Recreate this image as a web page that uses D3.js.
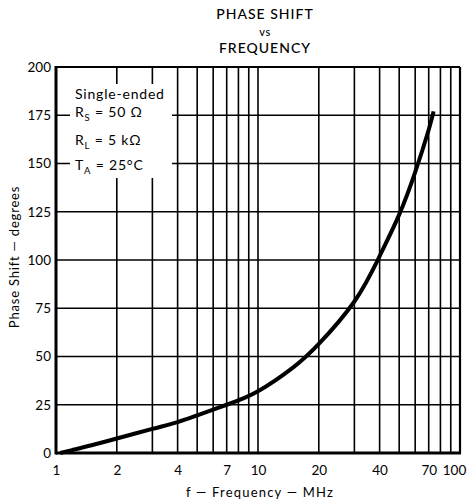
<!DOCTYPE html>
<html>
<head>
<meta charset="utf-8">
<script src="https://cdn.jsdelivr.net/npm/d3@7"></script>
<style>
  html, body { margin: 0; padding: 0; background: #fff; }
  svg { display: block; font-family: "Lato", "DejaVu Sans", sans-serif; }
</style>
</head>
<body>
<svg id="chart" width="467" height="503"></svg>
<script>
// ---- data ----
const titleLines = ["PHASE SHIFT", "vs", "FREQUENCY"];
const frequency = [1.05, 1.2, 1.5, 2, 3, 4, 5, 7, 10, 15, 20, 30, 40, 50, 60, 70, 74];
const phaseShift = [0, 1.5, 4, 7.5, 12.5, 16, 19.5, 25, 32, 44.5, 56.5, 78.5, 102, 123.5, 145.5, 167.5, 177];
const xTickLabels = [1, 2, 4, 7, 10, 20, 40, 70, 100];
const xGridValues = [2, 3, 4, 5, 6, 7, 8, 9, 10, 20, 30, 40, 50, 60, 70, 80, 90];
const yTickLabels = [0, 25, 50, 75, 100, 125, 150, 175, 200];

// ---- layout ----
const svg = d3.select("#chart");
const m = { left: 56, right: 460, top: 67, bottom: 453 };
const FONT = "Lato, DejaVu Sans, sans-serif";

const x = d3.scaleLog().domain([1, 100]).range([m.left, m.right]);
const y = d3.scaleLinear().domain([0, 200]).range([m.bottom, m.top]);

// title
svg.append("g").selectAll("text").data(titleLines).join("text")
  .attr("x", 265)
  .attr("y", (d, i) => 19 + i * 17)
  .attr("text-anchor", "middle")
  .attr("font-size", (d, i) => i === 1 ? 11 : 14)
  .attr("letter-spacing", (d, i) => i === 1 ? 0.5 : 1)
  .attr("font-weight", 500)
  .attr("fill", "#000")
  .text(d => d);

// grid
const grid = svg.append("g").attr("stroke", "#000").attr("stroke-width", 1.6);
grid.selectAll("line.v").data(xGridValues).join("line")
  .attr("class", "v")
  .attr("x1", d => x(d)).attr("x2", d => x(d))
  .attr("y1", m.top).attr("y2", m.bottom);
grid.selectAll("line.h").data(yTickLabels.filter(d => d > 0 && d < 200)).join("line")
  .attr("class", "h")
  .attr("x1", m.left).attr("x2", m.right)
  .attr("y1", d => y(d)).attr("y2", d => y(d));

// white box behind the conditions text
svg.append("rect")
  .attr("x", 70).attr("y", 84).attr("width", 102).attr("height", 94)
  .attr("fill", "#fff");

// frame
svg.append("line").attr("x1", m.left).attr("x2", m.right).attr("y1", m.top).attr("y2", m.top)
  .attr("stroke", "#000").attr("stroke-width", 2);
svg.append("line").attr("x1", m.right).attr("x2", m.right).attr("y1", m.top).attr("y2", m.bottom)
  .attr("stroke", "#000").attr("stroke-width", 2.2);
svg.append("line").attr("x1", m.left).attr("x2", m.left).attr("y1", m.top - 1).attr("y2", m.bottom + 1.5)
  .attr("stroke", "#000").attr("stroke-width", 3);
svg.append("line").attr("x1", m.left).attr("x2", m.right + 1).attr("y1", m.bottom).attr("y2", m.bottom)
  .attr("stroke", "#000").attr("stroke-width", 3);

// axes (labels only)
const xAxis = d3.axisBottom(x).tickValues(xTickLabels).tickSize(0).tickPadding(12)
  .tickFormat(d3.format("d"));
const gx = svg.append("g").attr("transform", `translate(0,${m.bottom})`).call(xAxis);
gx.select(".domain").remove();
gx.selectAll("text").attr("font-size", 13.5).attr("font-family", FONT).attr("fill", "#000")
  .attr("dx", d => d === 100 ? -6 : 0);

const yAxis = d3.axisLeft(y).tickValues(yTickLabels).tickSize(0).tickPadding(5)
  .tickFormat(d3.format("d"));
const gy = svg.append("g").attr("transform", `translate(${m.left},0)`).call(yAxis);
gy.select(".domain").remove();
gy.selectAll("text").attr("font-size", 13.5).attr("font-family", FONT).attr("fill", "#000");

// curve
const line = d3.line()
  .x((d, i) => x(frequency[i]))
  .y(d => y(d))
  .curve(d3.curveNatural);
svg.append("path")
  .datum(phaseShift)
  .attr("d", line)
  .attr("fill", "none")
  .attr("stroke", "#000")
  .attr("stroke-width", 4)
  .attr("stroke-linecap", "butt");

// conditions text
const cond = svg.append("g").attr("font-size", 14).attr("letter-spacing", 0.8).attr("fill", "#000");
cond.append("text").attr("x", 75).attr("y", 99).text("Single-ended");
const rs = cond.append("text").attr("x", 75).attr("y", 117);
rs.append("tspan").text("R");
rs.append("tspan").attr("font-size", 9.5).attr("dy", 4).text("S");
rs.append("tspan").attr("dy", -4).text(" = 50 Ω");
const rl = cond.append("text").attr("x", 75).attr("y", 145);
rl.append("tspan").text("R");
rl.append("tspan").attr("font-size", 9.5).attr("dy", 4).text("L");
rl.append("tspan").attr("dy", -4).text(" = 5 kΩ");
const ta = cond.append("text").attr("x", 75).attr("y", 170);
ta.append("tspan").text("T");
ta.append("tspan").attr("font-size", 9.5).attr("dy", 4).text("A");
ta.append("tspan").attr("dy", -4).text(" = 25°C");

// axis titles
svg.append("text")
  .attr("transform", "translate(19,257) rotate(-90)")
  .attr("text-anchor", "middle")
  .attr("font-size", 13)
  .attr("letter-spacing", 0.8)
  .attr("fill", "#000")
  .text("Phase Shift — degrees");
svg.append("text")
  .attr("x", 260).attr("y", 497)
  .attr("text-anchor", "middle")
  .attr("font-size", 13)
  .attr("letter-spacing", 1.2)
  .attr("fill", "#000")
  .text("f  —  Frequency  —  MHz");
</script>
</body>
</html>
